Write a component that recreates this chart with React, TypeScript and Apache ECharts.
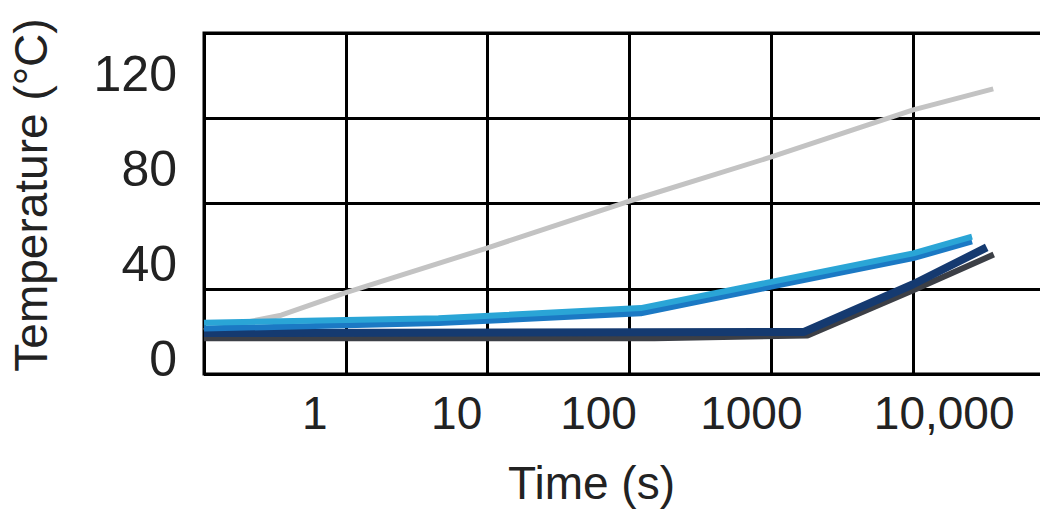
import React, { useEffect, useRef } from "react";
import * as echarts from "echarts";

// Time (s) vs temperature (°C)
const grayLine: [number, number][] = [
  [0.1, 12], [0.35, 18.5], [1, 28], [10, 46.8], [100, 66.5], [1000, 85], [10000, 104.8], [36700, 113.6],
];
const charcoalLine: [number, number][] = [
  [0.1, 8.8], [150, 8.8], [1800, 10], [10000, 29], [37000, 44],
];
const navyLine: [number, number][] = [
  [0.1, 11], [1700, 11.5], [10000, 31.5], [33000, 47],
];
const midBlueLine: [number, number][] = [
  [0.1, 12.9], [4.5, 15.2], [120, 19.3], [1000, 30.5], [10000, 42.5], [26000, 49.5],
];
const cyanLine: [number, number][] = [
  [0.1, 15.3], [4.5, 17.2], [120, 21.5], [1000, 32.5], [10000, 44.5], [26000, 51.5],
];

const xGridValues = [0.1, 1, 10, 100, 1000, 10000, 100000];
const xTickValues = [1, 10, 100, 1000, 10000];
const xTickLabels = ["1", "10", "100", "1000", "10,000"];
const yTickValues = [0, 40, 80, 120];

const FONT = "'Liberation Sans', Arial, sans-serif";

export default function App() {
  const ref = useRef<HTMLDivElement>(null);
  useEffect(() => {
    document.body.style.overflow = "hidden";
    const chart = echarts.init(ref.current!, null, { renderer: "svg" });
    const mk = (name: string, data: [number, number][], color: string, width: number) => ({
      name,
      type: "line",
      data,
      showSymbol: false,
      symbol: "none",
      yAxisIndex: 0,
      lineStyle: { color, width, join: "bevel" },
      z: 3,
    });
    chart.setOption({
      animation: false,
      backgroundColor: "#ffffff",
      grid: { left: 201, right: 5, top: 33, bottom: 137, show: true, borderColor: "#000", borderWidth: 3 },
      xAxis: {
        type: "log",
        logBase: 10,
        min: 0.1,
        max: 100000,
        name: "Time (s)",
        nameLocation: "middle",
        nameGap: 86,
        nameTextStyle: { fontSize: 46, fontFamily: FONT, color: "#222", padding: [0, 76, 0, 0] },
        axisLine: { show: false },
        axisTick: { show: false, customValues: xGridValues },
        splitLine: { show: true, lineStyle: { color: "#000", width: 3 } },
        axisLabel: {
          customValues: xTickValues,
          margin: 16,
          fontSize: 46,
          fontFamily: FONT,
          color: "#222",
          formatter: (v: number) => {
            const i = Math.round(Math.log10(v));
            const lbl = xTickLabels[i] ?? "";
            return i === 4 ? `{r|${lbl}}` : i === 3 ? `{m|${lbl}}` : `{l|${lbl}}`;
          },
          rich: {
            l: { fontSize: 46, fontFamily: FONT, color: "#222", padding: [0, 62, 0, 0] },
            m: { fontSize: 46, fontFamily: FONT, color: "#222", padding: [0, 40, 0, 0] },
            r: { fontSize: 46, fontFamily: FONT, color: "#222", padding: [0, 0, 0, 62] },
          },
        },
      },
      yAxis: [
        {
          type: "value",
          min: -6.2,
          max: 137.1,
          name: "Temperature (°C)",
          nameLocation: "middle",
          nameGap: 150,
          nameTextStyle: { fontSize: 46, fontFamily: FONT, color: "#222", padding: [0, 0, 0, 17] },
          axisLine: { show: false },
          axisTick: { show: false },
          splitLine: { show: false },
          axisLabel: {
            customValues: yTickValues,
            margin: 27,
            fontSize: 50,
            fontFamily: FONT,
            color: "#222",
          },
        },
        {
          type: "value",
          position: "left",
          min: 0,
          max: 4,
          interval: 1,
          axisLine: { show: false },
          axisTick: { show: false },
          axisLabel: { show: false },
          splitLine: { show: true, lineStyle: { color: "#000", width: 3 } },
        },
      ],
      series: [
        mk("Gray", grayLine, "#c3c3c3", 5),
        mk("Charcoal", charcoalLine, "#3c3f46", 6),
        mk("Navy", navyLine, "#153a70", 8),
        mk("Mid blue", midBlueLine, "#1b79c4", 6),
        mk("Cyan", cyanLine, "#2aa5d6", 6),
      ],
    });
    return () => chart.dispose();
  }, []);
  return (
    <div
      ref={ref}
      style={{ position: "fixed", left: 0, top: 0, width: 1060, height: 511, background: "#fff" }}
    />
  );
}
